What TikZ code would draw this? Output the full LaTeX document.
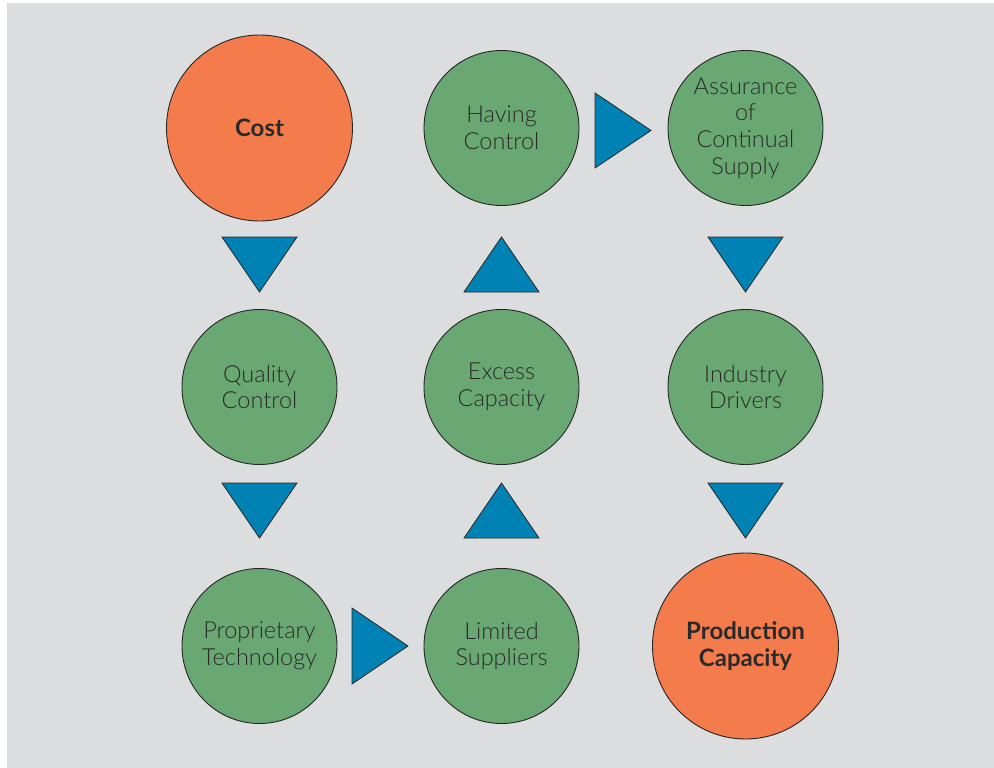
\documentclass[tikz,border=0pt]{standalone}
\usepackage{fontspec}
\setmainfont{Lato}
\newfontfamily\lightfont{Lato Light}
\definecolor{bggray}{HTML}{DCDDDF}
\definecolor{corange}{HTML}{F47C4C}
\definecolor{cgreen}{HTML}{6AA873}
\definecolor{cblue}{HTML}{0083B4}
\definecolor{ctext}{HTML}{2A2A2A}
\tikzset{
  big/.style={circle, draw=black!85, line width=0.9pt, fill=corange, minimum size=186pt, inner sep=0pt,
    align=center, text=ctext, font=\fontsize{24}{27.5}\selectfont\bfseries},
  small/.style={circle, draw=black!85, line width=0.9pt, fill=cgreen, minimum size=155pt, inner sep=0pt,
    align=center, text=ctext, font=\fontsize{23.5}{26.8}\selectfont\lightfont},
  tri/.style={fill=cblue, draw=black!85, line width=0.8pt, line join=miter}
}
\begin{document}
\begin{tikzpicture}[x=1pt,y=-1pt]
\useasboundingbox (0,0) rectangle (994,768);
\fill[white] (0,0) rectangle (994,768);
\fill[bggray] (7,3) rectangle (994,768);
% nodes
\node[big]   (cost) at (259.5,128) {Cost};
\node[small] (hc)   at (501.5,128) {Having\\Control};
\node[small] (acs)  at (745.5,128) {Assurance\\of\\Continual\\Supply};
\node[small] (qc)   at (259.5,387) {Quality\\Control};
\node[small] (ec)   at (501.5,387) {Excess\\Capacity};
\node[small] (id)   at (745.5,387) {Industry\\Drivers};
\node[small] (pt)   at (259.5,646) {Proprietary\\Technology};
\node[small] (ls)   at (501.5,646) {Limited\\Suppliers};
\node[big]   (pc)   at (745.5,646) {Production\\Capacity};
% triangle arrows between nodes
\path[tri] (222,237) -- (297,237) -- (259.5,292) -- cycle;
\path[tri] (222,483) -- (297,483) -- (259.5,538) -- cycle;
\path[tri] (352,608) -- (408,646) -- (352,684) -- cycle;
\path[tri] (464,538) -- (539,538) -- (501.5,483) -- cycle;
\path[tri] (464,292) -- (539,292) -- (501.5,237) -- cycle;
\path[tri] (595,93) -- (651,130.5) -- (595,168) -- cycle;
\path[tri] (708,237) -- (783,237) -- (745.5,292) -- cycle;
\path[tri] (708,483) -- (783,483) -- (745.5,538) -- cycle;
\end{tikzpicture}
\end{document}
